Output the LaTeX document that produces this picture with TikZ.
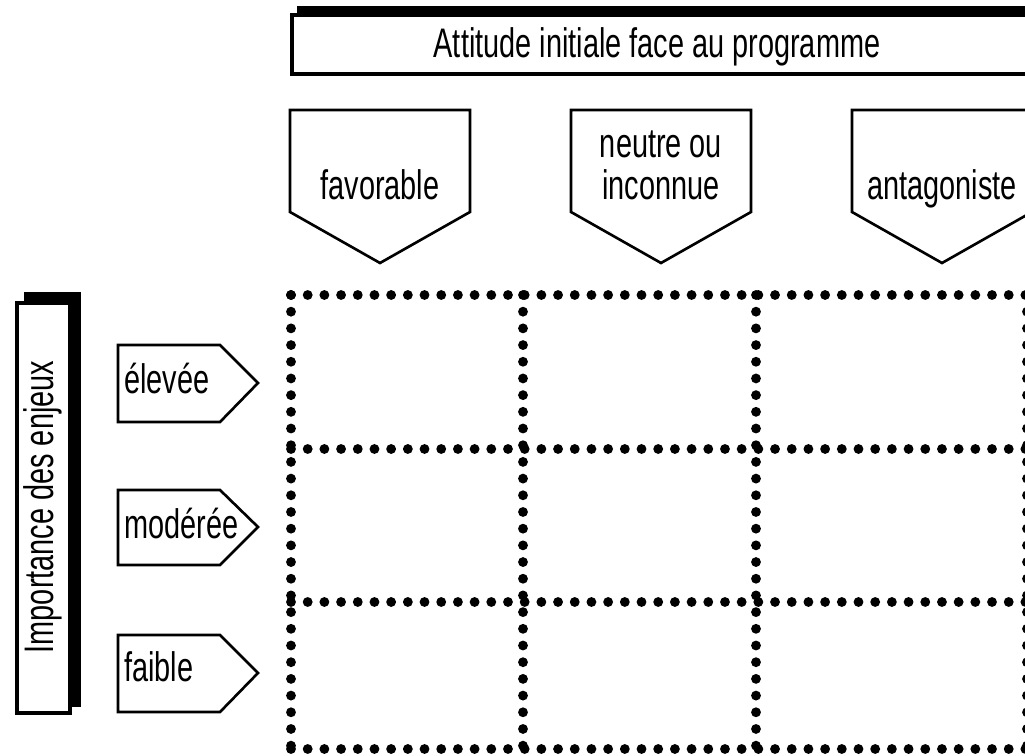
\documentclass[tikz,border=0pt]{standalone}
\usepackage{fontspec}
\newfontfamily\etroite[FakeStretch=0.70]{Liberation Sans}
\tikzset{
  texte/.style = {font=\etroite\fontsize{23.5}{24}\selectfont, inner sep=0pt,
    align=center},
  cadre/.style = {draw=black, fill=white, line width=2.5pt},% boite avec ombre
  ombre/.style = {fill=black},
  fleche/.style = {draw=black, fill=white, line width=1.5pt, line join=miter},
  pointille/.style = {line width=5.6pt, line cap=round,
    dash pattern=on 0pt off 9.5pt}% grille en points
}
\begin{document}
\begin{tikzpicture}[x=0.02cm, y=-0.02cm]
\useasboundingbox (0,0) rectangle (1025,756);
\clip (0,0) rectangle (1025,756);

% titre du haut
\fill[ombre] (297,6) rectangle (1045,66);
\draw[cadre] (292,15) rectangle (1037,74);
\node[texte, anchor=base] (titre) at (657,58) {Attitude initiale face au programme};

% attitudes
\draw[fleche] (290,110) -- (470,110) -- (470,212) -- (380,263) -- (290,212) -- cycle;
\draw[fleche] (571,110) -- (751,110) -- (751,212) -- (661,263) -- (571,212) -- cycle;
\draw[fleche] (852,110) -- (1032,110) -- (1032,212) -- (942,263) -- (852,212) -- cycle;
\node[texte, anchor=base] (favorable) at (380,200) {favorable};
\node[texte, anchor=south] (neutre) at (661,200) {neutre ou\\inconnue};
\node[texte, anchor=base] (antago) at (942,200) {antagoniste};

% boite verticale
\fill[ombre] (24,292) rectangle (81,707);
\draw[cadre] (17,303) rectangle (70,713);
\node[texte, rotate=90] (enjeux) at (43,507) {Importance des enjeux};

% importance
\draw[fleche] (118,345) -- (220,345) -- (258,383) -- (220,422) -- (118,422) -- cycle;
\draw[fleche] (118,490) -- (220,490) -- (258,527) -- (220,565) -- (118,565) -- cycle;
\draw[fleche] (118,635) -- (220,635) -- (258,673) -- (220,712) -- (118,712) -- cycle;
\node[texte, anchor=base west] (elevee) at (124,394) {élevée};
\node[texte, anchor=base west] (moderee) at (124,539) {modérée};
\node[texte, anchor=base west] (faible) at (124,682) {faible};

% grille
\draw[pointille] (291,295) -- (1027,295);
\draw[pointille] (291,449) -- (1027,449);
\draw[pointille] (291,602) -- (1027,602);
\draw[pointille] (291,749) -- (1027,749);
\draw[pointille] (291,295) -- (291,749);
\draw[pointille] (523,295) -- (523,749);
\draw[pointille] (756,295) -- (756,749);
\draw[pointille] (1027,295) -- (1027,749);
\end{tikzpicture}
\end{document}
